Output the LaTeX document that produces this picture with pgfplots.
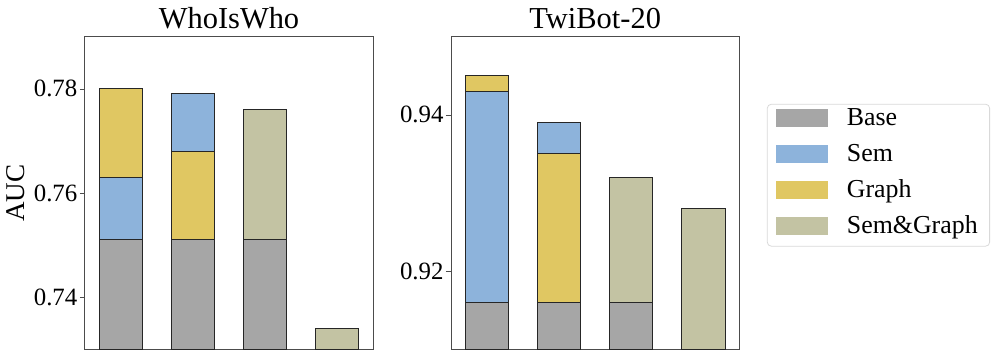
\documentclass[border=0pt]{standalone}
\usepackage{fontspec}
\setmainfont{Liberation Serif}
\usepackage{pgfplots}
\pgfplotsset{compat=1.18}

\definecolor{cbase}{RGB}{166,166,166}
\definecolor{csem}{RGB}{141,179,219}
\definecolor{cgraph}{RGB}{224,199,98}
\definecolor{csg}{RGB}{195,195,163}

\pgfplotsset{
  panel/.style={
    width=145pt, height=157.2pt, scale only axis,
    xmin=-0.5, xmax=3.5, xtick=\empty,
    axis line style={black!70},
    tick align=outside, tick pos=left,
    major tick length=2.5pt,
    ytick style={black!70},
    /pgf/number format/assume math mode=true,
    yticklabel style={font=\fontsize{12.5}{14}\selectfont, inner xsep=1pt, /pgf/number format/fixed, /pgf/number format/precision=2, /pgf/number format/fixed zerofill},
    title style={font=\fontsize{15.3}{17}\selectfont, inner ysep=3.5pt, yshift=-5.65pt},
    ylabel style={font=\fontsize{13.6}{15}\selectfont},
    scaled y ticks=false,
  },
  seg/.style={ybar, bar shift=0pt, bar width=0.6, draw=black!85, line width=0.5pt, fill=#1, forget plot},
}

\begin{document}
\begin{tikzpicture}

\begin{axis}[panel, name=left,
  title={WhoIsWho}, ylabel={AUC},
  ymin=0.73, ymax=0.79, ytick={0.74,0.76,0.78}]
% tallest segment drawn first, lower segments over it
\addplot[seg=cgraph] coordinates {(0,0.780)};
\addplot[seg=csem] coordinates {(1,0.779)};
\addplot[seg=csg] coordinates {(2,0.776) (3,0.734)};
\addplot[seg=csem] coordinates {(0,0.763)};
\addplot[seg=cgraph] coordinates {(1,0.768)};
\addplot[seg=cbase] coordinates {(0,0.751) (1,0.751) (2,0.751)};
\end{axis}

\begin{axis}[panel, xshift=184pt,
  title={TwiBot-20},
  ymin=0.91, ymax=0.95, ytick={0.92,0.94},
  legend style={at={(1.095,0.785)}, anchor=north west,
    draw=black!15, rounded corners=2pt,
    font=\fontsize{13}{15}\selectfont,
    nodes={inner sep=1.5pt, text height=0.7em, text depth=0.25em},
    /tikz/every odd column/.append style={column sep=8pt},
    row sep=5.5pt, inner xsep=4.5pt, inner ysep=2.4pt},
  legend cell align=left,
  legend image code/.code={\fill[#1, draw=none, sharp corners] (0pt,-2.9pt) rectangle (26pt,6.1pt);}]
\addlegendimage{fill=cbase}
\addlegendentry{Base}
\addlegendimage{fill=csem}
\addlegendentry{Sem}
\addlegendimage{fill=cgraph}
\addlegendentry{Graph}
\addlegendimage{fill=csg}
\addlegendentry{Sem\&Graph}
\addplot[seg=cgraph] coordinates {(0,0.945)};
\addplot[seg=csem] coordinates {(1,0.939)};
\addplot[seg=csg] coordinates {(2,0.932) (3,0.928)};
\addplot[seg=csem] coordinates {(0,0.943)};
\addplot[seg=cgraph] coordinates {(1,0.935)};
\addplot[seg=cbase] coordinates {(0,0.916) (1,0.916) (2,0.916)};
\end{axis}

% white margin round the figure, as in the reference
\path ([xshift=3.5pt,yshift=-3.5pt]current bounding box.south east);

\end{tikzpicture}
\end{document}
